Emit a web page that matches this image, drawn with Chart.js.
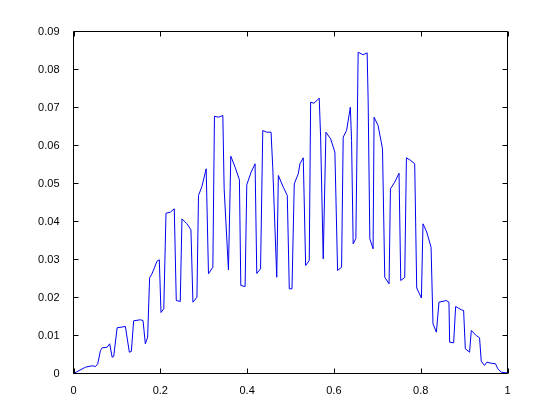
<!DOCTYPE html>
<html><head><meta charset="utf-8">
<script src="https://cdn.jsdelivr.net/npm/chart.js@4/dist/chart.umd.min.js"></script>
<style>html,body{margin:0;padding:0;background:#fff}canvas{display:block}</style>
</head><body>
<canvas id="c" width="560" height="420"></canvas>
<script>
const xValues = [0,0.0276,0.0430,0.0506,0.0559,0.0621,0.0660,0.0775,0.0834,0.0890,0.0926,0.1005,0.1195,0.1287,0.1333,0.1386,0.1540,0.1602,0.1655,0.1708,0.1754,0.1809,0.1869,0.1924,0.1977,0.2016,0.2080,0.2131,0.2230,0.2322,0.2368,0.2460,0.2499,0.2614,0.2706,0.2752,0.2844,0.2880,0.2959,0.3057,0.3110,0.3211,0.3248,0.3340,0.3441,0.3471,0.3570,0.3625,0.3724,0.3823,0.3855,0.3954,0.3993,0.4092,0.4184,0.4223,0.4310,0.4361,0.4453,0.4552,0.4591,0.4683,0.4720,0.4834,0.4926,0.4972,0.5034,0.5087,0.5179,0.5218,0.5294,0.5349,0.5432,0.5464,0.5540,0.5662,0.5694,0.5754,0.5816,0.5924,0.6023,0.6085,0.6177,0.6214,0.6292,0.6379,0.6407,0.6444,0.6506,0.6559,0.6674,0.6766,0.6789,0.6828,0.6903,0.6926,0.7018,0.7120,0.7172,0.7271,0.7303,0.7402,0.7501,0.7540,0.7632,0.7671,0.7770,0.7862,0.7908,0.8016,0.8053,0.8138,0.8239,0.8283,0.8361,0.8421,0.8591,0.8651,0.8667,0.8759,0.8805,0.8936,0.8989,0.9028,0.9126,0.9166,0.9280,0.9356,0.9395,0.9471,0.9524,0.9625,0.9724,0.9777,0.9855,1.0];
const yValues = [0,0.00166,0.00203,0.00184,0.00255,0.00605,0.00676,0.00692,0.00782,0.00429,0.00447,0.01203,0.01237,0.00561,0.00579,0.01387,0.01413,0.01395,0.00782,0.00955,0.02518,0.02624,0.02797,0.02955,0.02992,0.01605,0.01703,0.04218,0.04245,0.04334,0.01921,0.01895,0.04071,0.03939,0.03782,0.01876,0.02008,0.04684,0.04921,0.05387,0.02624,0.02797,0.06771,0.06745,0.06789,0.04861,0.02729,0.05718,0.05429,0.05097,0.02316,0.02289,0.04966,0.05297,0.05518,0.02632,0.02755,0.06395,0.06350,0.06350,0.05429,0.02534,0.05211,0.04903,0.04684,0.02229,0.02229,0.04992,0.05255,0.05518,0.05676,0.02842,0.02974,0.07139,0.07113,0.07245,0.06218,0.03018,0.06350,0.06176,0.05824,0.02711,0.02797,0.06218,0.06395,0.07008,0.06132,0.03413,0.03553,0.08455,0.08387,0.08439,0.07184,0.03545,0.03282,0.06745,0.06526,0.05913,0.02534,0.02361,0.04861,0.05034,0.05271,0.02447,0.02526,0.05676,0.05605,0.05518,0.02250,0.01987,0.03939,0.03724,0.03324,0.01308,0.01087,0.01876,0.01921,0.01876,0.00824,0.00808,0.01763,0.01676,0.01658,0.00650,0.00561,0.01132,0.01000,0.00939,0.00324,0.00211,0.00297,0.00271,0.00255,0.00124,0.00034,0.00013];
const xTicks = [0, 0.2, 0.4, 0.6, 0.8, 1];
const yTicks = [0, 0.01, 0.02, 0.03, 0.04, 0.05, 0.06, 0.07, 0.08, 0.09];

const points = xValues.map((x, i) => ({x: x, y: yValues[i]}));

const boxTicks = {
  id: 'boxTicks',
  afterDraw(chart) {
    const ctx = chart.ctx, a = chart.chartArea;
    const xs = chart.scales.x, ys = chart.scales.y;
    const L = 5;
    ctx.save();
    ctx.strokeStyle = '#000';
    ctx.lineWidth = 1;
    ctx.beginPath();
    ctx.rect(a.left, a.top, a.right - a.left, a.bottom - a.top);
    xTicks.forEach(v => {
      const px = Math.round(xs.getPixelForValue(v)) + 0.5;
      ctx.moveTo(px, a.bottom); ctx.lineTo(px, a.bottom - L);
      ctx.moveTo(px, a.top); ctx.lineTo(px, a.top + L);
    });
    yTicks.forEach(v => {
      const py = Math.round(ys.getPixelForValue(v) - 0.5) + 0.5;
      ctx.moveTo(a.left, py); ctx.lineTo(a.left + L, py);
      ctx.moveTo(a.right, py); ctx.lineTo(a.right - L, py);
    });
    ctx.stroke();
    ctx.restore();
  }
};

new Chart(document.getElementById('c'), {
  type: 'line',
  data: { datasets: [{ data: points, borderColor: '#0000f0', borderWidth: 1, pointRadius: 0, tension: 0, fill: false }] },
  options: {
    responsive: false,
    animation: false,
    events: [],
    layout: { padding: { left: 0, top: 31.5, right: 52.5, bottom: 0 } },
    plugins: { legend: { display: false }, tooltip: { enabled: false } },
    scales: {
      x: {
        type: 'linear', min: 0, max: 1,
        afterBuildTicks: s => { s.ticks = xTicks.map(v => ({value: v})); },
        afterFit: s => { s.height = 46.5; },
        grid: { display: false }, border: { display: false },
        ticks: { color: '#000', padding: 3, maxRotation: 0, autoSkip: false,
          font: { family: 'Liberation Sans, Arial, sans-serif', size: 11 },
          callback: v => String(v) }
      },
      y: {
        type: 'linear', min: 0, max: 0.09,
        afterBuildTicks: s => { s.ticks = yTicks.map(v => ({value: v})); },
        afterFit: s => { s.width = 73.5; },
        grid: { display: false }, border: { display: false },
        ticks: { color: '#000', padding: 6, autoSkip: false,
          font: { family: 'Liberation Sans, Arial, sans-serif', size: 11 },
          callback: v => String(v) }
      }
    }
  },
  plugins: [boxTicks]
});
</script>
</body></html>
